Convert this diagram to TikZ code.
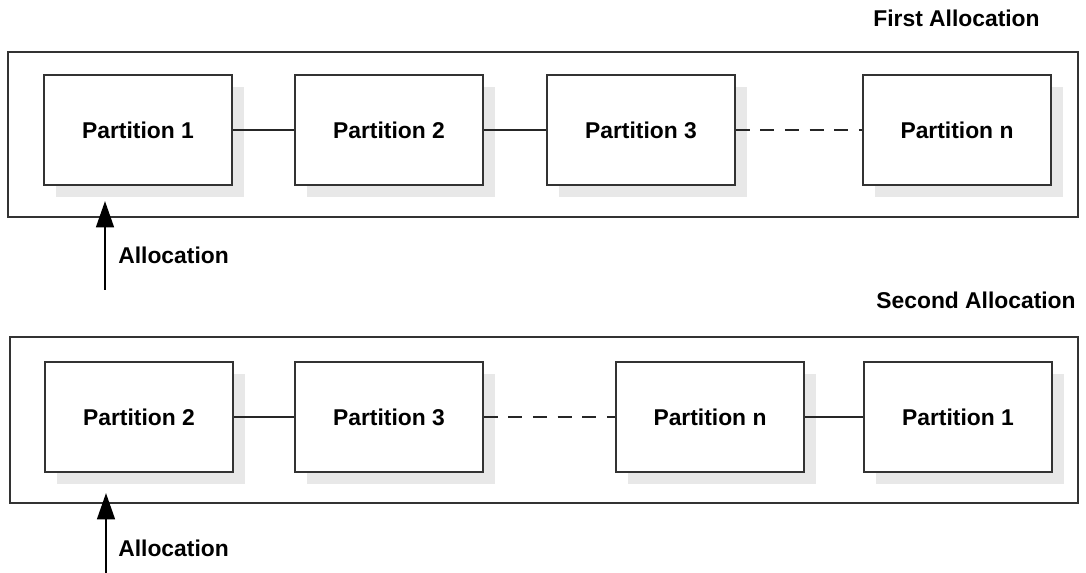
\documentclass[tikz,border=0pt]{standalone}
\usepackage{fontspec}
\setmainfont{Liberation Sans}
\usetikzlibrary{arrows.meta, shadows}

\tikzset{
  part/.style={draw=black!80, line width=0.9pt, fill=white,
    minimum width=3.76cm, minimum height=2.2cm, inner sep=0pt,
    font=\bfseries\fontsize{13}{15}\selectfont,
    drop shadow={shadow xshift=0.24cm, shadow yshift=-0.24cm,
      fill=black!9, opacity=1}},
  frame/.style={draw=black!80, line width=0.9pt},
  link/.style={draw=black!85, line width=0.7pt},
  gap/.style={link, dash pattern=on 8pt off 6pt},
  alloc/.style={black, line width=1.6pt, -{Triangle[length=15pt, width=10pt]}},
  lbl/.style={font=\bfseries\fontsize{13}{15}\selectfont, inner sep=0pt}
}

\begin{document}
\begin{tikzpicture}[x=0.02cm, y=-0.02cm]
\useasboundingbox (0,0) rectangle (1086,573);

% first allocation
\draw[frame] (8,52) rectangle (1078,217);
\node[lbl, anchor=east] (first) at (1040,18) {First Allocation};
\node[part] (a1) at (138,130) {Partition 1};
\node[part] (a2) at (389,130) {Partition 2};
\node[part] (a3) at (641,130) {Partition 3};
\node[part] (an) at (957,130) {Partition n};
\draw[link] (a1) -- (a2);
\draw[link] (a2) -- (a3);
\draw[gap] (a3) -- (an);
\coordinate (t1) at (105,290);
\coordinate (h1) at (105,201);
\draw[alloc] (t1) -- (h1);
\node[lbl, anchor=west] (al1) at (118,255) {Allocation};

% second allocation
\draw[frame] (10,337) rectangle (1078,503);
\node[lbl, anchor=east] (second) at (1076,300) {Second Allocation};
\node[part] (b2) at (139,417) {Partition 2};
\node[part] (b3) at (389,417) {Partition 3};
\node[part] (bn) at (710,417) {Partition n};
\node[part] (b1) at (958,417) {Partition 1};
\draw[link] (b2) -- (b3);
\draw[gap] (b3) -- (bn);
\draw[link] (bn) -- (b1);
\coordinate (t2) at (106,573);
\coordinate (h2) at (106,493);
\draw[alloc] (t2) -- (h2);
\node[lbl, anchor=west] (al2) at (118,548) {Allocation};

\end{tikzpicture}
\end{document}
